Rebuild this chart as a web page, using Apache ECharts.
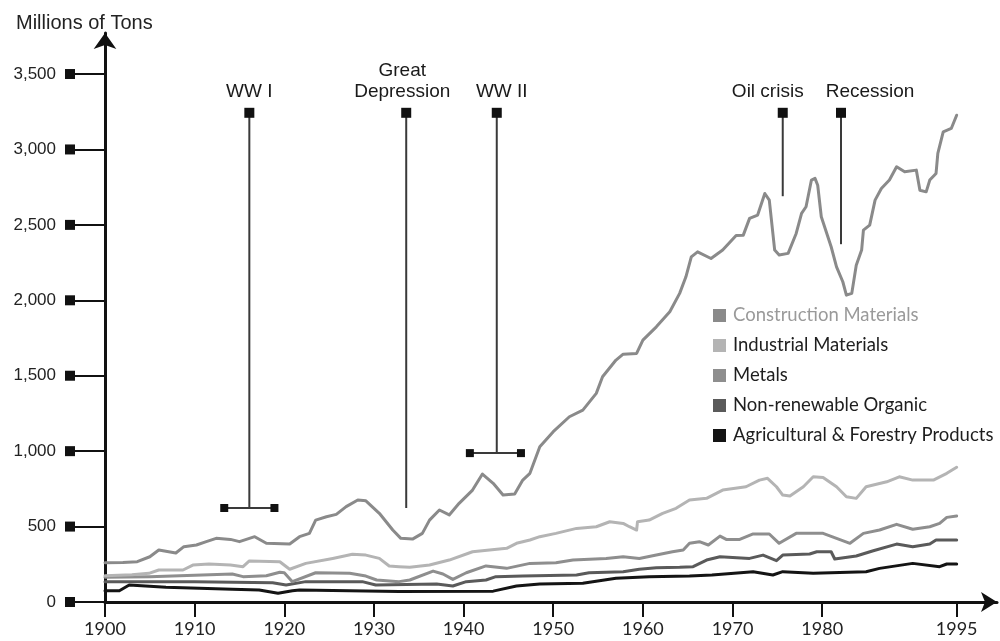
<!DOCTYPE html>
<html>
<head>
<meta charset="utf-8">
<script src="https://cdn.jsdelivr.net/npm/echarts@6/dist/echarts.min.js"></script>
<style>html,body{margin:0;padding:0;background:#fff;}#chart{width:1000px;height:641px;}</style>
</head>
<body>
<div id="chart"></div>
<script>
// ---- data ----
const seriesNames = ['Construction Materials','Industrial Materials','Metals','Non-renewable Organic','Agricultural & Forestry Products'];
const construction = [[1900,260],[1902,262],[1903.6,267],[1905,300],[1906,345],[1907.9,325],[1908.8,367],[1910.2,378],[1911.3,400],[1912.4,422],[1914,415],[1915,400],[1916.7,433],[1918,389],[1920.6,384],[1921.7,433],[1922.8,455],[1923.5,543],[1924.7,565],[1925.8,581],[1926.9,632],[1928.2,676],[1929.1,671],[1930.6,588],[1932.1,477],[1933,422],[1934.3,417],[1935.4,455],[1936.2,543],[1937.3,610],[1938.4,577],[1939.5,654],[1941,742],[1942.1,848],[1943.3,787],[1944.4,709],[1945.7,716],[1946.6,808],[1947.4,853],[1948.5,1029],[1950,1129],[1951.8,1228],[1953.3,1272],[1954.8,1383],[1955.5,1493],[1957,1604],[1957.8,1643],[1959.3,1648],[1960,1736],[1961.5,1824],[1963,1924],[1964.1,2046],[1964.8,2156],[1965.4,2288],[1966.1,2321],[1967.6,2277],[1968.9,2333],[1970.4,2430],[1971.2,2432],[1971.9,2543],[1972.8,2565],[1973.6,2708],[1974.1,2664],[1974.7,2333],[1975.2,2300],[1976.2,2311],[1977.1,2443],[1977.7,2576],[1978.2,2620],[1978.8,2797],[1979.2,2808],[1979.5,2763],[1979.9,2554],[1981,2355],[1981.6,2222],[1982.3,2123],[1982.7,2034],[1983.3,2046],[1983.8,2233],[1984.4,2333],[1984.6,2465],[1985.3,2498],[1985.9,2664],[1986.6,2741],[1987.5,2797],[1988.3,2885],[1989.2,2852],[1990.5,2863],[1990.9,2730],[1991.6,2719],[1992,2797],[1992.7,2841],[1992.9,2974],[1993.5,3117],[1994.4,3139],[1995,3227]];
const industrial = [[1900,174],[1903,180],[1904.9,190],[1906,212],[1908.7,212],[1909.8,245],[1911.6,252],[1914,245],[1915.4,234],[1916.1,272],[1919.5,267],[1920.6,217],[1922.4,256],[1925.4,289],[1927.6,316],[1929.1,311],[1930.6,289],[1931.7,239],[1932.8,234],[1934,230],[1936.2,245],[1938.4,278],[1941,333],[1944.8,356],[1945.9,389],[1947.4,411],[1948.5,433],[1950.3,455],[1952.6,488],[1954.8,499],[1956.3,532],[1957.8,521],[1958.5,499],[1959.3,477],[1959.4,532],[1960.7,543],[1962.2,588],[1963.7,621],[1965.2,676],[1967.1,687],[1968.9,742],[1971.5,764],[1973,808],[1973.9,820],[1974.9,764],[1975.6,709],[1976.4,702],[1977.9,764],[1979,830],[1980.1,826],[1981.6,764],[1982.7,698],[1983.8,687],[1984.9,764],[1987.2,797],[1988.6,830],[1990.1,808],[1992.4,808],[1993.9,853],[1995,893]];
const metals = [[1900,164],[1905,168],[1910,178],[1914.2,186],[1915.4,168],[1918,174],[1919.5,197],[1920,194],[1920.9,135],[1923.5,194],[1927.3,190],[1929.1,172],[1930.3,146],[1932.8,135],[1934,146],[1936.6,205],[1937.7,186],[1938.8,150],[1940.3,194],[1942.5,239],[1944.8,223],[1947.4,256],[1950.3,260],[1952.2,278],[1955.9,289],[1957.8,300],[1959.6,289],[1961.5,311],[1963.3,333],[1964.5,345],[1965.2,389],[1966.3,400],[1967.3,378],[1968.6,437],[1969.3,415],[1970.8,415],[1972.3,451],[1974.1,451],[1975.2,389],[1977.1,455],[1980.1,455],[1981.6,422],[1983.1,389],[1984.6,455],[1986.4,477],[1988.3,515],[1990.1,482],[1992,499],[1993.1,521],[1993.9,561],[1995,570]];
const nonRenewable = [[1900,135],[1910,135],[1918.7,128],[1920.2,113],[1922.4,135],[1928.7,135],[1930.2,113],[1937,119],[1938.8,106],[1940.3,135],[1942.5,146],[1943.6,168],[1946.6,172],[1952.6,179],[1954,194],[1957.8,201],[1959.6,217],[1961.5,227],[1964.1,230],[1965.6,234],[1967.1,278],[1968.6,300],[1971.9,289],[1973.4,311],[1974.9,274],[1975.6,311],[1978.6,318],[1979.4,333],[1981,333],[1981.4,285],[1983.8,305],[1985.7,340],[1988.3,384],[1990.1,366],[1992,384],[1992.7,411],[1995,411]];
const agricultural = [[1900,75],[1901.6,75],[1902.7,113],[1906.8,97],[1914.2,84],[1917.2,80],[1919.3,58],[1920.9,75],[1921.7,80],[1932.8,70],[1943.3,72],[1945.9,106],[1948.5,119],[1953.3,124],[1957,157],[1960.7,168],[1965.2,172],[1967.7,179],[1972.3,201],[1974.5,179],[1975.6,201],[1979,190],[1984.9,201],[1986.4,223],[1990.1,256],[1993.1,234],[1993.9,252],[1995,252]];

const xTickLabels = [1900,1910,1920,1930,1940,1950,1960,1970,1980,1995];
const yTickValues = [0,500,1000,1500,2000,2500,3000,3500];

// annotations
const annLabels = ['WW I','Great\nDepression','WW II','Oil crisis','Recession'];
const annYear = [1916.1,1933.6,1943.7,1975.6,1982.1];
const annTop = [3243,3243,3243,3243,3243];
const annBottom = [623,623,987,2690,2372];
const annBarFrom = [1913.3,null,1940.7,null,null];
const annBarTo = [1918.9,null,1946.4,null,null];

// ---- styles ----
const colors = ['#8a8a8a','#b4b4b4','#8e8e8e','#5a5a5a','#141414'];
const annLabelDx = [0,-4,5,-15,29];
const sansA = '"Liberation Sans", Arial, sans-serif';
const sansC = 'Lato, "Open Sans", sans-serif';

const dataSets = [construction, industrial, metals, nonRenewable, agricultural];

const chart = echarts.init(document.getElementById('chart'), null, {renderer:'canvas'});

function fmt(v){ return v.toLocaleString('en-US'); }

function renderAnn(params, api){
  const i = params.dataIndex;
  const x = api.value(0);
  const pt = api.coord([x, api.value(1)]);
  const pb = api.coord([x, api.value(2)]);
  const kids = [
    {type:'line', shape:{x1:pt[0],y1:pt[1],x2:pb[0],y2:pb[1]}, style:{stroke:'#3a3a3a',lineWidth:2}},
    {type:'rect', shape:{x:pt[0]-5,y:pt[1]-5,width:10,height:10}, style:{fill:'#111'}},
    {type:'text', style:{text:annLabels[i], x:pt[0]+annLabelDx[i], y:pt[1]-11, align:'center', verticalAlign:'bottom', fontSize:19, fontFamily:sansA, fill:'#1a1a1a', lineHeight:21}}
  ];
  if (annBarFrom[i] != null){
    const a = api.coord([annBarFrom[i], api.value(2)]);
    const b = api.coord([annBarTo[i], api.value(2)]);
    kids.push({type:'line', shape:{x1:a[0],y1:a[1],x2:b[0],y2:b[1]}, style:{stroke:'#3a3a3a',lineWidth:2}});
    kids.push({type:'rect', shape:{x:a[0]-4,y:a[1]-4,width:8,height:8}, style:{fill:'#111'}});
    kids.push({type:'rect', shape:{x:b[0]-4,y:b[1]-4,width:8,height:8}, style:{fill:'#111'}});
  }
  return {type:'group', children:kids};
}

const lineSeries = seriesNames.map((n,i)=>({
  name:n, type:'line', data:dataSets[i], showSymbol:false, symbol:'none',
  lineStyle:{color:colors[i], width:3, join:'round', cap:'round'},
  itemStyle:{color:colors[i]},
  z: 5 - i, animation:false, emphasis:{disabled:true}
}));

const option = {
  animation:false,
  title:{text:'Millions of Tons', left:11, top:8, textStyle:{fontFamily:sansA, fontSize:20, fontWeight:'normal', color:'#222'}},
  legend:{
    orient:'vertical', left:713, top:306, padding:0, icon:'rect', itemWidth:13, itemHeight:13, itemGap:11,
    textStyle:{fontFamily:sansC, fontSize:18.5, color:'#1e1e1e', lineHeight:18, padding:[0,0,0,2]},
    data: seriesNames.map((n,i)=> i===0 ? {name:n, textStyle:{color:'#9a9a9a'}} : {name:n}),
    selectedMode:false
  },
  grid:{left:105, right:3, top:33, bottom:39, containLabel:false},
  xAxis:{
    type:'value', min:1900, max:1999.5,
    splitLine:{show:false},
    axisLine:{show:true, lineStyle:{color:'#111', width:3}, symbol:['none','arrow'], symbolSize:[15,16]},
    axisTick:{show:true, length:15, lineStyle:{color:'#111', width:2}, customValues:xTickLabels},
    axisLabel:{customValues:xTickLabels, margin:18, fontFamily:sansC, fontSize:18, color:'#222', formatter:v=>String(v)}
  },
  yAxis:{
    type:'value', min:0, max:3772,
    splitLine:{show:false},
    axisLine:{show:true, onZero:false, lineStyle:{color:'#111', width:3}, symbol:['none','arrow'], symbolSize:[17,16]},
    axisTick:{show:true, length:30, lineStyle:{color:'#111', width:2}, customValues:yTickValues},
    axisLabel:{
      customValues:yTickValues, margin:30, fontFamily:sansA, fontSize:17, color:'#222',
      formatter:v=>'{t|'+fmt(v)+'}{sq|}',
      rich:{t:{fontFamily:sansA, fontSize:17, color:'#222', padding:[0,9,0,0]}, sq:{width:10, height:10, backgroundColor:'#111'}}
    }
  },
  series: lineSeries.concat([{
    type:'custom', name:'annotations', renderItem:renderAnn, clip:false, z:10,
    encode:{x:0, y:[1,2]},
    data: annYear.map((y,i)=>[y, annTop[i], annBottom[i]]),
    silent:true, animation:false
  }])
};
chart.setOption(option);
</script>
</body>
</html>
